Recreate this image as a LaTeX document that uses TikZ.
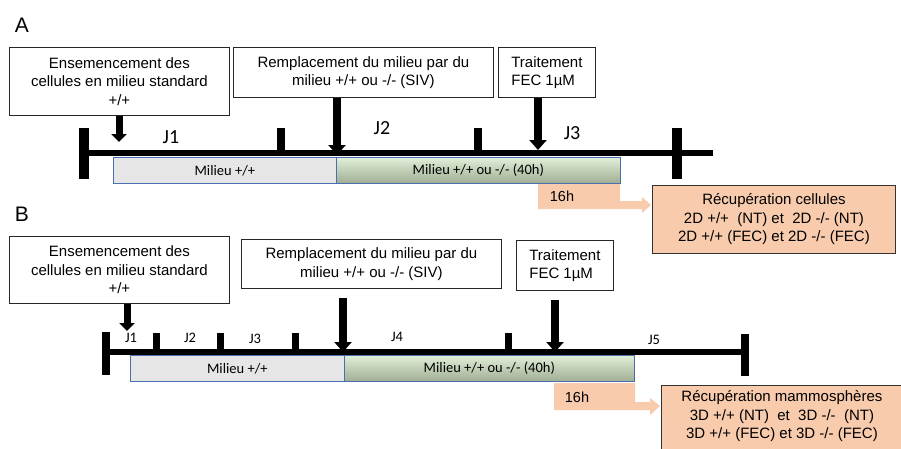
\documentclass[tikz,border=0pt]{standalone}
\usepackage{fontspec}
\setmainfont{Liberation Sans}
\newfontfamily\calfont{Carlito}
\usetikzlibrary{arrows.meta,positioning,calc}

\definecolor{peach}{HTML}{F8CBAD}
\definecolor{barblue}{HTML}{4A6FB0}
\definecolor{milgray}{HTML}{E6E6E6}
\definecolor{milgreentop}{HTML}{E2EFD9}
\definecolor{milgreenbot}{HTML}{9FAE93}

\begin{document}
\begin{tikzpicture}[x=1pt, y=-1pt,
  txtbox/.style={draw=black!85, line width=0.8pt, fill=white, inner sep=3pt, align=center, anchor=north west, font=\fontsize{15}{18.5}\selectfont},
  recbox/.style={draw=black!80, line width=0.9pt, fill=peach, align=center, anchor=north west, font=\fontsize{15}{18.5}\selectfont},
  milbar/.style={draw=barblue, line width=0.7pt, anchor=north west, minimum height=26pt, inner sep=0pt, font=\calfont\fontsize{14.5}{16}\selectfont},
  bigarrow/.style={line width=8pt, -{Triangle[width=17pt,length=10pt]}},
  smallarrow/.style={line width=7pt, -{Triangle[width=15pt,length=8pt]}},
  orangebox/.style={fill=peach},
  panel/.style={font=\fontsize{21}{21}\selectfont},
  jbig/.style={font=\calfont\fontsize{20}{20}\selectfont},
  jsmall/.style={font=\calfont\fontsize{14.5}{14.5}\selectfont}]

\useasboundingbox (0,0) rectangle (901,448);
\clip (0,0) rectangle (901,448);

%%%%%%%%%%%%%%%% Panel A %%%%%%%%%%%%%%%%
\node[panel] (labA) at (22,25) {A};

% Boxes
\node[txtbox, minimum width=220pt, minimum height=68pt] (seedA) at (9,47)
  {Ensemencement des\\cellules en milieu standard\\+/+};
\node[txtbox, minimum width=260pt, minimum height=50pt] (remA) at (233,47)
  {Remplacement du milieu par du\\milieu +/+ ou -/- (SIV)};
\node[txtbox, align=left, minimum width=97pt, minimum height=50pt] (fecA) at (498,47)
  {Traitement\\FEC 1µM};

% Orange 16h arrow
\fill[orangebox] (538,183) -- (620,183) -- (620,201) -- (642,201) -- (642,197)
  -- (651,205) -- (642,213) -- (642,209) -- (538,209) -- cycle;
\node[font=\fontsize{14.5}{14.5}\selectfont] (hA) at (562,196) {16h};

% Culture media
\node[milbar, fill=milgray, minimum width=223pt] (milA1) at (113,157) {Milieu +/+};
\node[milbar, top color=milgreentop, bottom color=milgreenbot, minimum width=284pt] (milA2) at (336,157)
  {Milieu +/+ ou -/- (40h)};

% Timeline
\draw[line width=6pt] (80,153) -- (713,153);
\draw[line width=10pt] (84,128) -- (84,179);
\draw[line width=10pt] (677,128) -- (677,179);
\foreach \tx in {281,478} {
  \draw[line width=8pt] (\tx,128) -- (\tx,153);
}

% Days
\node[jbig] (jA1) at (171,137) {J1};
\node[jbig] (jA2) at (382,128) {J2};
\node[jbig] (jA3) at (572,133) {J3};

% Arrows
\coordinate (tA1) at (119,142);
\coordinate (tA2) at (337,155);
\coordinate (tA3) at (538,150);
\draw[smallarrow] (seedA.south -| tA1) -- (tA1);
\draw[bigarrow] (remA.south -| tA2) -- (tA2);
\draw[bigarrow] (fecA.south -| tA3) -- (tA3);

% Recovery
\node[recbox, minimum width=243pt, minimum height=68pt] (recA) at (652,185)
  {Récupération cellules\\2D +/+ \ (NT) et \ 2D -/- (NT)\\2D +/+ (FEC) et 2D -/- (FEC)};

%%%%%%%%%%%%%%%% Panel B %%%%%%%%%%%%%%%%
\node[panel] (labB) at (22,214) {B};

% Boxes
\node[txtbox, minimum width=220pt, minimum height=67pt] (seedB) at (9,236)
  {Ensemencement des\\cellules en milieu standard\\+/+};
\node[txtbox, minimum width=260pt, minimum height=49pt] (remB) at (241,239)
  {Remplacement du milieu par du\\milieu +/+ ou -/- (SIV)};
\node[txtbox, align=left, minimum width=97pt, minimum height=50pt] (fecB) at (516,240)
  {Traitement\\FEC 1µM};

% Orange 16h arrow
\fill[orangebox] (554,383) -- (635,383) -- (635,402) -- (650,402) -- (650,398)
  -- (660,406) -- (650,415) -- (650,410) -- (554,410) -- cycle;
\node[font=\fontsize{14.5}{14.5}\selectfont] (hB) at (577,397) {16h};

% Culture media
\node[milbar, fill=milgray, minimum width=214pt] (milB1) at (130,355) {Milieu +/+};
\node[milbar, top color=milgreentop, bottom color=milgreenbot, minimum width=290pt] (milB2) at (344,355)
  {Milieu +/+ ou -/- (40h)};

% Timeline
\draw[line width=6pt] (105,352) -- (745,352);
\draw[line width=8pt] (106,332) -- (106,375);
\draw[line width=8pt] (745,334) -- (745,376);
\foreach \tx in {156,220,295,508} {
  \draw[line width=7pt] (\tx,333) -- (\tx,352);
}

% Days
\node[jsmall] (jB1) at (131,338) {J1};
\node[jsmall] (jB2) at (190,338) {J2};
\node[jsmall] (jB3) at (255,339) {J3};
\node[jsmall] (jB4) at (397,337) {J4};
\node[jsmall] (jB5) at (654,340) {J5};

% Arrows
\coordinate (tB1) at (127,331);
\coordinate (tB2) at (343,352);
\coordinate (tB3) at (555,352);
\draw[smallarrow] (seedB.south -| tB1) -- (tB1);
\draw[bigarrow] ($(remB.south -| tB2)+(0,9)$) -- (tB2);
\draw[bigarrow] ($(fecB.south -| tB3)+(0,9)$) -- (tB3);

% Recovery
\node[recbox, minimum width=241pt, inner ysep=5pt, text depth=12pt] (recB) at (661,385)
  {Récupération mammosphères\\3D +/+ (NT) \ et \ 3D -/- \ (NT)\\3D +/+ (FEC) et 3D -/- (FEC)};

\end{tikzpicture}
\end{document}
